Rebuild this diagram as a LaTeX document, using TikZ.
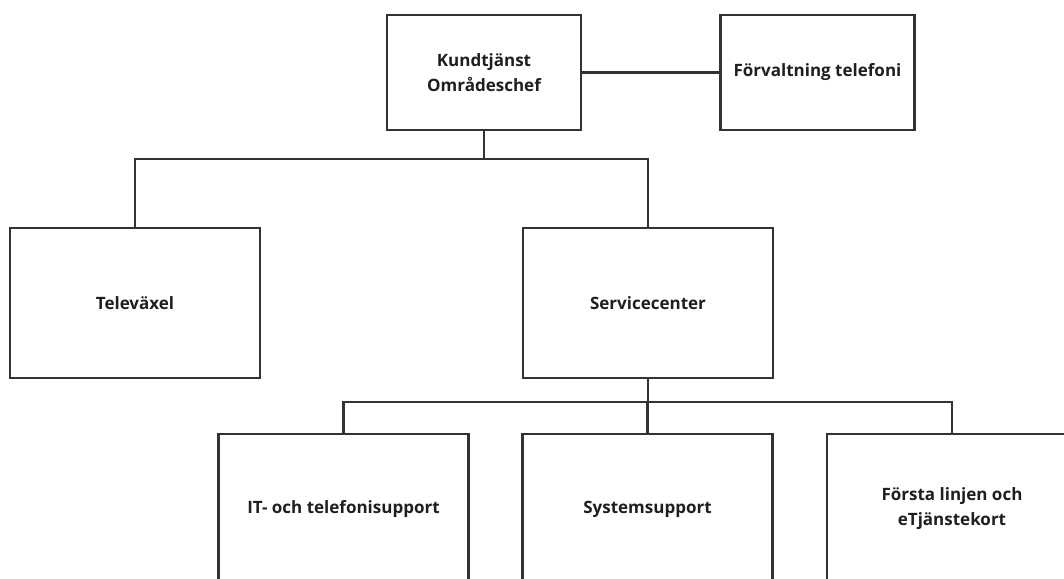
\documentclass[tikz,border=0pt]{standalone}
\usepackage{fontspec}
\setmainfont{Open Sans}
\definecolor{edge}{HTML}{333333}
\definecolor{ink}{HTML}{1F1F1F}
\begin{document}
\begin{tikzpicture}[x=1pt,y=-1pt,
  unit/.style={draw=edge, line width=2.2pt, fill=white, rectangle,
    minimum width=250pt, minimum height=150pt, align=center,
    font=\bfseries\fontsize{17}{25}\selectfont, text=ink, inner sep=0pt},
  small/.style={unit, minimum width=194pt, minimum height=115pt},
  link/.style={draw=edge, line width=2.2pt}]
\useasboundingbox (0,0) rectangle (1064,578);
\clip (0,0) rectangle (1064,578);

% top level
\node[small] (chef) at (484,72.5) {Kundtjänst\\Områdeschef};
\node[small] (forv) at (817.5,72.5) {Förvaltning telefoni};

% second level
\node[unit] (tvx) at (135,303) {Televäxel};
\node[unit] (svc) at (648,303) {Servicecenter};

% third level
\node[unit] (itsup) at (343.5,509) {IT- och telefonisupport};
\node[unit] (syssup) at (647.5,509) {Systemsupport};
\node[unit] (forsta) at (952,509) {Första linjen och\\eTjänstekort};

% junction points
\coordinate (j1) at (484,159);
\coordinate (j2) at (648,402);

% connectors
\draw[link] (chef.east) -- (forv.west);
\draw[link] (chef.south) -- (j1);
\draw[link] (j1) -| (tvx.north);
\draw[link] (j1) -| (svc.north);
\draw[link] (svc.south) -- (j2);
\draw[link] (j2) -| (itsup.north);
\draw[link] (j2) -| (syssup.north);
\draw[link] (j2) -| (forsta.north);
\end{tikzpicture}
\end{document}
